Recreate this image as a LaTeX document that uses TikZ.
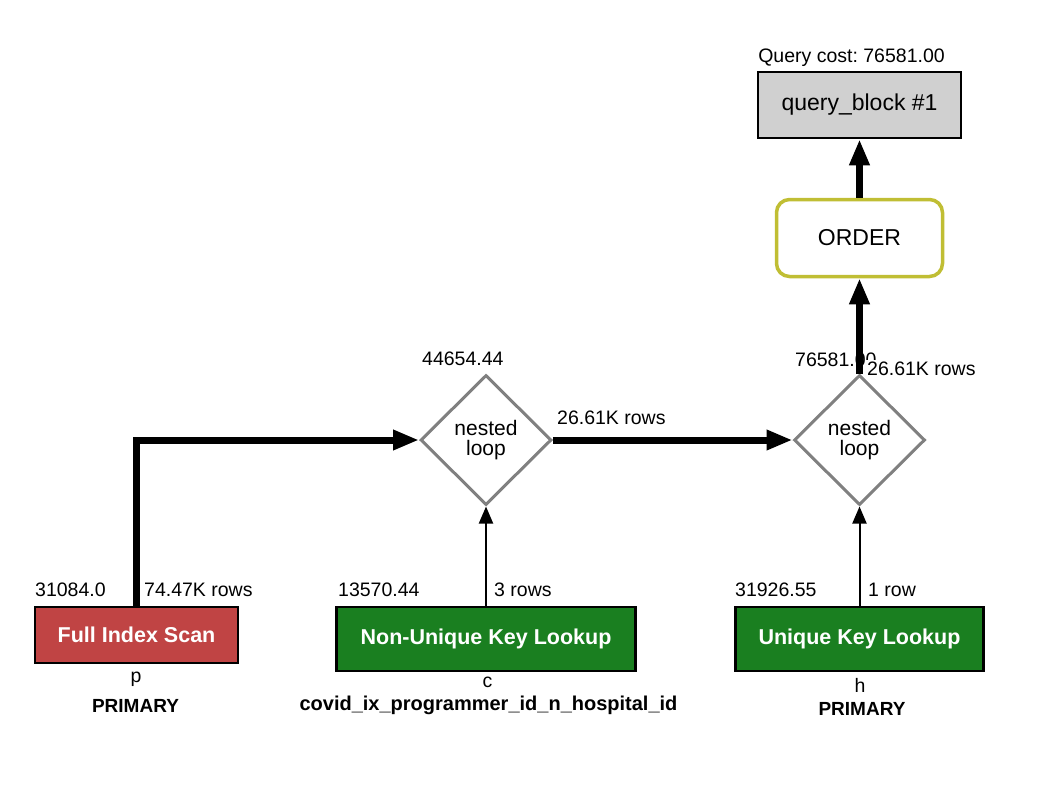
\documentclass[tikz,border=0pt]{standalone}
\usepackage{fontspec}
\setmainfont{Liberation Sans}
\usetikzlibrary{arrows.meta,shapes.geometric}
\definecolor{qbgray}{RGB}{208,208,208}
\definecolor{orderolive}{RGB}{192,190,52}
\definecolor{scanred}{RGB}{192,68,68}
\definecolor{lookgreen}{RGB}{26,127,32}
\definecolor{loopgray}{RGB}{128,128,128}
\frenchspacing
\tikzset{
  lbl/.style={inner sep=0pt, font=\fontsize{19.5}{23}\selectfont},
  blbl/.style={inner sep=0pt, font=\fontsize{19}{23}\selectfont\bfseries},
  opbox/.style={draw=black, line width=2.5pt, inner sep=0pt, text=white,
    font=\fontsize{21.5}{25}\selectfont\bfseries},
  loopnode/.style={diamond, draw=loopgray, line width=3pt, fill=white, align=center,
    inner sep=0pt, minimum width=131pt, minimum height=130pt,
    font=\fontsize{21}{20.5}\selectfont},
  fatarrow/.style={line width=7pt, -{Triangle[length=26pt,width=19pt]}},
  thinarrow/.style={line width=2pt, -{Triangle[length=17pt,width=14pt]}}
}
\begin{document}
\begin{tikzpicture}[x=1pt,y=-1pt]
\useasboundingbox (0,0) rectangle (1050,806);
% top
\node[draw=black, fill=qbgray, line width=2.5pt, minimum width=203pt, minimum height=66pt,
  inner sep=0pt, font=\fontsize{23}{27}\selectfont] (qb) at (859.5,105) {query\_block \#1};
\node[lbl, anchor=base] (qcost) at (851.5,62) {Query cost: 76581.00};
\node[draw=orderolive, fill=white, line width=3.5pt, rounded corners=13pt, minimum width=166pt,
  minimum height=77pt, inner sep=0pt, font=\fontsize{23}{27}\selectfont] (order) at (859.5,238) {ORDER};
% loops
\node[loopnode] (d1) at (486,440) {nested\\loop};
\node[loopnode] (d2) at (859.5,440) {nested\\loop};
\node[lbl, anchor=base west] (c1) at (422,365) {44654.44};
\node[lbl, anchor=base west] (c2) at (795,366) {76581.00};
% operation boxes
\node[opbox, fill=scanred, minimum width=203pt, minimum height=56pt] (fis) at (136.5,635) {Full Index Scan};
\node[opbox, fill=lookgreen, minimum width=299pt, minimum height=64pt] (nukl) at (486,639) {Non-Unique Key Lookup};
\node[opbox, fill=lookgreen, minimum width=248pt, minimum height=64pt] (ukl) at (859.5,639) {Unique Key Lookup};
% costs and rows under loops
\node[lbl, anchor=base west] (fcost) at (35,596) {31084.0};
\node[lbl, anchor=base west] (frows) at (144,596) {74.47K rows};
\node[lbl, anchor=base west] (ncost) at (338,596) {13570.44};
\node[lbl, anchor=base west] (nrows) at (494,596) {3 rows};
\node[lbl, anchor=base west] (ucost) at (735,596) {31926.55};
\node[lbl, anchor=base west] (urows) at (868,596) {1 row};
% table and key names
\node[lbl, anchor=base] (tp) at (136,682) {p};
\node[blbl, anchor=base] (kp) at (135.5,712) {PRIMARY};
\node[lbl, anchor=base] (tc) at (487.5,687) {c};
\node[blbl, anchor=base, font=\fontsize{20}{23}\selectfont\bfseries] (kc) at (488.5,710) {covid\_ix\_programmer\_id\_n\_hospital\_id};
\node[lbl, anchor=base] (th) at (860,692) {h};
\node[blbl, anchor=base] (kh) at (862,715) {PRIMARY};
% connectors
\draw[fatarrow] (fis.north) |- (d1.west);
\draw[fatarrow] (d1.east) -- (d2.west);
\node[lbl, anchor=base west] (mrows) at (557,424) {26.61K rows};
\draw[thinarrow] (nukl.north) -- (d1.south);
\draw[thinarrow] (ukl.north) -- (d2.south);
\draw[fatarrow] (d2.north) -- (order.south);
\draw[fatarrow] (order.north) -- (qb.south);
\node[lbl, anchor=base west, fill=white, inner sep=1pt] (trows) at (866,375) {26.61K rows};
\end{tikzpicture}
\end{document}
